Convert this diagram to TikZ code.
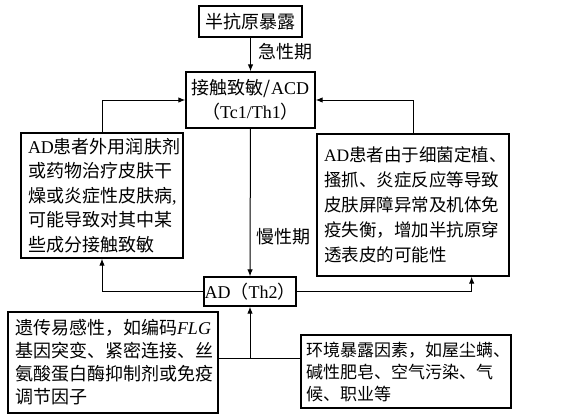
\documentclass[tikz,border=0pt]{standalone}
\usepackage{fontspec}
\setmainfont{Noto Sans CJK SC}
\newfontfamily\tnr{Liberation Serif}
\usetikzlibrary{arrows.meta}

\begin{document}
\begin{tikzpicture}[x=1pt, y=-1pt,
    box/.style={draw, line width=1.3pt, align=center, inner sep=0pt, font=\fontsize{18}{24.5}\selectfont},
    textbox/.style={box, align=left, inner xsep=7pt},
    arr/.style={-{Latex[length=7pt,width=5.5pt]}, line width=1pt},
    lbl/.style={anchor=west, inner sep=0pt, font=\fontsize{18}{24.5}\selectfont}]

    \useasboundingbox (0,0) rectangle (569,418);

    \node[box, minimum width=103, minimum height=31] (hapten) at (250.5,21.5) {半抗原暴露};
    \node[box, minimum width=129, minimum height=56] (acd) at (250.5,100) {接触致敏/{\tnr ACD}\\（{\tnr Tc1/Th1}）};
    \node[textbox, text width=148, minimum height=125] (topical) at (102,195.5) {{\tnr AD}患者外用润肤剂\\或药物治疗皮肤干\\燥或炎症性皮肤病{\tnr ,}\\可能导致对其中某\\些成分接触致敏};
    \node[textbox, text width=178, minimum height=142, font=\fontsize{17.5}{25}\selectfont] (barrier) at (413,205) {{\tnr AD}患者由于细菌定植、\\搔抓、炎症反应等导致\\皮肤屏障异常及机体免\\疫失衡，增加半抗原穿\\透表皮的可能性};
    \node[box, minimum width=92, minimum height=29] (ad) at (250,291.5) {{\tnr AD}（{\tnr Th2}）};
    \node[textbox, text width=196, minimum height=101, font=\fontsize{18}{23}\selectfont] (genetic) at (113,362.5) {遗传易感性，如编码{\tnr\itshape FLG}\\基因突变、紧密连接、丝\\氨酸蛋白酶抑制剂或免疫\\调节因子};
    \node[textbox, text width=200, inner xsep=5pt, minimum height=73, font=\fontsize{17}{22}\selectfont] (environ) at (406,371.5) {环境暴露因素，如屋尘螨、\\碱性肥皂、空气污染、气\\候、职业等};

    \node[lbl] (acute) at (258,52) {急性期};
    \node[lbl] (chronic) at (256,237) {慢性期};

    \coordinate (join) at (250,358);

    \draw[arr] (hapten) -- (acd); % acute phase
    \draw[arr] (acd) -- (ad); % chronic phase
    \draw[arr] (topical.north) |- (acd.west);
    \draw[arr] (barrier.north) |- (acd.east);
    \draw[arr] (ad.west) -| (topical.south);
    \draw[arr] (ad.east) -| ([xshift=-38pt]barrier.south east);
    \draw[line width=1pt] (genetic.east |- join) -- (environ.west |- join);
    \draw[arr] (join) -- (ad.south);

\end{tikzpicture}
\end{document}
